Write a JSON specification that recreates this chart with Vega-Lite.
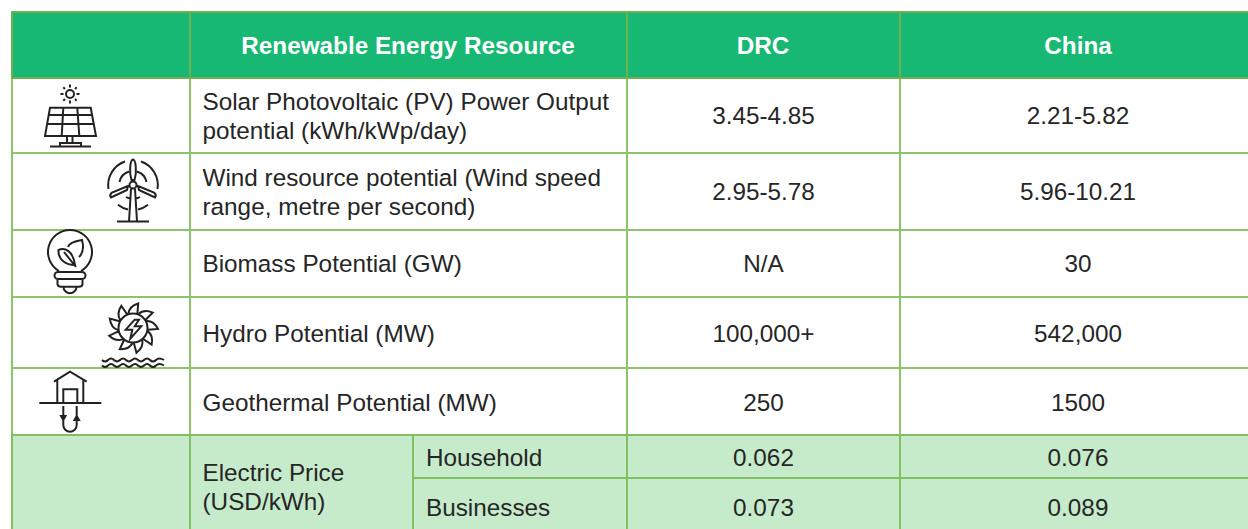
{
"$schema":"https://vega.github.io/schema/vega-lite/v6.json",
"width":1248,"height":529,
"autosize":{"type":"fit","contains":"padding"},
"padding":0,
"background":"#ffffff",
"view":{"stroke":null},
"config":{"text":{"font":"Liberation Sans","fontSize":24.3}},
"datasets":{
"cells":[
{"kind":"body","x":12,"x2":190,"y":78,"y2":153},
{"kind":"body","x":190,"x2":627,"y":78,"y2":153},
{"kind":"body","x":627,"x2":900,"y":78,"y2":153},
{"kind":"body","x":900,"x2":1255,"y":78,"y2":153},
{"kind":"body","x":12,"x2":190,"y":153,"y2":230},
{"kind":"body","x":190,"x2":627,"y":153,"y2":230},
{"kind":"body","x":627,"x2":900,"y":153,"y2":230},
{"kind":"body","x":900,"x2":1255,"y":153,"y2":230},
{"kind":"body","x":12,"x2":190,"y":230,"y2":297},
{"kind":"body","x":190,"x2":627,"y":230,"y2":297},
{"kind":"body","x":627,"x2":900,"y":230,"y2":297},
{"kind":"body","x":900,"x2":1255,"y":230,"y2":297},
{"kind":"body","x":12,"x2":190,"y":297,"y2":368},
{"kind":"body","x":190,"x2":627,"y":297,"y2":368},
{"kind":"body","x":627,"x2":900,"y":297,"y2":368},
{"kind":"body","x":900,"x2":1255,"y":297,"y2":368},
{"kind":"body","x":12,"x2":190,"y":368,"y2":435},
{"kind":"body","x":190,"x2":627,"y":368,"y2":435},
{"kind":"body","x":627,"x2":900,"y":368,"y2":435},
{"kind":"body","x":900,"x2":1255,"y":368,"y2":435},
{"kind":"price","x":12,"x2":190,"y":435,"y2":535},
{"kind":"price","x":190,"x2":413,"y":435,"y2":535},
{"kind":"price","x":413,"x2":627,"y":435,"y2":478},
{"kind":"price","x":413,"x2":627,"y":478,"y2":535},
{"kind":"price","x":627,"x2":900,"y":435,"y2":478},
{"kind":"price","x":627,"x2":900,"y":478,"y2":535},
{"kind":"price","x":900,"x2":1255,"y":435,"y2":478},
{"kind":"price","x":900,"x2":1255,"y":478,"y2":535},
{"kind":"header","x":12,"x2":190,"y":12,"y2":78},
{"kind":"header","x":190,"x2":627,"y":12,"y2":78},
{"kind":"header","x":627,"x2":900,"y":12,"y2":78},
{"kind":"header","x":900,"x2":1255,"y":12,"y2":78}
],
"headers":[
{"label":"Renewable Energy Resource","x":408,"y":47},
{"label":"DRC","x":763,"y":47},
{"label":"China","x":1078,"y":47}
],
"labels":[
{"label":"Solar Photovoltaic (PV) Power Output","x":202.5,"y":103},
{"label":"potential (kWh/kWp/day)","x":202.5,"y":132},
{"label":"Wind resource potential (Wind speed","x":202.5,"y":179},
{"label":"range, metre per second)","x":202.5,"y":208},
{"label":"Biomass Potential (GW)","x":202.5,"y":265},
{"label":"Hydro Potential (MW)","x":202.5,"y":335},
{"label":"Geothermal Potential (MW)","x":202.5,"y":404},
{"label":"Electric Price","x":202.5,"y":474},
{"label":"(USD/kWh)","x":202.5,"y":503},
{"label":"Household","x":426,"y":459},
{"label":"Businesses","x":426,"y":509}
],
"values":[
{"label":"3.45-4.85","x":763.5,"y":117},
{"label":"2.21-5.82","x":1078,"y":117},
{"label":"2.95-5.78","x":763.5,"y":193},
{"label":"5.96-10.21","x":1078,"y":193},
{"label":"N/A","x":763.5,"y":265},
{"label":"30","x":1078,"y":265},
{"label":"100,000+","x":763.5,"y":335},
{"label":"542,000","x":1078,"y":335},
{"label":"250","x":763.5,"y":404},
{"label":"1500","x":1078,"y":404},
{"label":"0.062","x":763.5,"y":459},
{"label":"0.076","x":1078,"y":459},
{"label":"0.073","x":763.5,"y":509},
{"label":"0.089","x":1078,"y":509}
],
"icons":[
{"icon":"solar","x":70,"y":120},
{"icon":"wind","x":133,"y":185},
{"icon":"biomass","x":70,"y":252},
{"icon":"hydro","x":133,"y":328},
{"icon":"geothermal","x":70,"y":403}
]
},
"data":{"name":"cells"},
"layer":[
{"mark":{"type":"rect","strokeWidth":2,"clip":true},
"encoding":{
"x":{"field":"x","type":"quantitative","scale":{"domain":[0,1248],"nice":false,"zero":false},"axis":null},
"x2":{"field":"x2"},
"y":{"field":"y","type":"quantitative","scale":{"domain":[529,0],"nice":false,"zero":false},"axis":null},
"y2":{"field":"y2"},
"fill":{"field":"kind","type":"nominal","legend":null,"scale":{"domain":["header","body","price"],"range":["#16B873","#FFFFFF","#C6EBCB"]}},
"stroke":{"field":"kind","type":"nominal","legend":null,"scale":{"domain":["header","body","price"],"range":["#72AF50","#8CC46C","#82BE62"]}}
}},
{"data":{"name":"icons"},
"mark":{"type":"point","filled":false,"size":4,"strokeWidth":2,"stroke":"#222222","opacity":1},
"encoding":{
"x":{"field":"x","type":"quantitative"},
"y":{"field":"y","type":"quantitative"},
"shape":{"field":"icon","type":"nominal","legend":null,"scale":{"domain":["solar","wind","biomass","hydro","geothermal"],"range":[
"M4,-26A4,4 0 1,1 -4,-26A4,4 0 1,1 4,-26ZM0,-35.5L0,-32.5M0,-19.5L0,-16.5M-9.5,-26L-6.5,-26M6.5,-26L9.5,-26M-6.7,-32.7L-5,-31M6.7,-32.7L5,-31M-6.7,-19.3L-5,-21M6.7,-19.3L5,-21M-20,-12.3L20.7,-12.3L26,16L-25,16ZM-22,-5L22,-5M-23.5,4L24,4M-6.7,-12.3L-8.3,16M7.3,-12.3L9.3,16M-3,16L-3,23M2.5,16L2.5,23M-10,26L-10,23L11,23L11,26M-20,26.5L21,26.5",
"M3.5,0A3.5,3.5 0 1,1 -3.5,0A3.5,3.5 0 1,1 3.5,0ZM-1.5,-5C-4,-12 -3,-25 0,-25.5C3,-25 4,-12 1.5,-5ZM-5,1L-21,7.5Q-24,10 -22,12.5L-6,5ZM5,1L21,7.5Q24,10 22,12.5L6,5ZM-8,-23.5A25,25 0 0,0 -24.5,4M8,-23.5A25,25 0 0,1 24.5,4M-15,19.7A25,25 0 0,0 -5,24.5M15,19.7A25,25 0 0,1 5,24.5M-4,-13.5A14,14 0 0,0 -13.5,-3M4,-13.5A14,14 0 0,1 13.5,-3M-7,12A14,14 0 0,0 -3,13.5M7,12A14,14 0 0,1 3,13.5M-2,4L-4,36.5M2,4L4,36.5M-16,36.5L16,36.5",
"M-11,19A22,22 0 1,1 11,19M-12,20L12,20A3.5,3.5 0 0,1 12,27L-12,27A3.5,3.5 0 0,1 -12,20ZM-12.5,27L-12.5,32Q-12.5,34.7 -9,34.7L9,34.7Q12.5,34.7 12.5,32L12.5,27M-6.5,34.7A6.5,6.5 0 0,0 6.5,34.7M5,13C-4,13 -12,8 -11.5,-2C-5,-5 3,-1 5,13ZM-2,-5C-1,-9 6,-11 12,-12C14,-5 13,1 9,5M-6,0L6,15",
"M14.5,0A14.5,14.5 0 1,1 -14.5,0A14.5,14.5 0 1,1 14.5,0ZM1.7,-8.3L-7.3,1.7L-0.7,1.7L-2.7,10.7L8.3,-1.7L1.7,-1.7L6,-8.3ZM-4.6,-14.3Q-3.8,-21.7 5.2,-24.5L4.4,-14.3M5.6,-13.9Q11,-19.1 19.7,-15.4L12.6,-8.2M13.2,-7Q20.7,-7.5 25,0.9L14.9,1.8M14.7,3.1Q20.7,7.5 18.6,16.7L10.2,11M9.2,11.8Q11,19.1 3.5,24.8L0.8,15M-0.5,15Q-3.8,21.7 -13.2,21.2L-9,12M-10,11.1Q-16.9,14.1 -23.8,7.7L-14.6,3.4M-14.9,2.1Q-22,0 -23.2,-9.4L-13.4,-6.8M-12.7,-7.9Q-16.9,-14.1 -11.7,-22.1L-5.9,-13.8M-31,32Q-28,35 -25,32Q-22,29 -19,32Q-16,35 -13,32Q-10,29 -7,32Q-4,35 -1,32Q2,29 5,32Q8,35 11,32Q14,29 17,32Q20,35 23,32Q26,29 31,32M-31,37.5Q-28,40.5 -25,37.5Q-22,34.5 -19,37.5Q-16,40.5 -13,37.5Q-10,34.5 -7,37.5Q-4,40.5 -1,37.5Q2,34.5 5,37.5Q8,40.5 11,37.5Q14,34.5 17,37.5Q20,40.5 23,37.5Q26,34.5 31,37.5",
"M-16,-21.3L0,-31.3L16.7,-21.3M-12.7,-24L-12.7,0M13.3,-24L13.3,0M-6.7,0L-6.7,-13.7L7.3,-13.7L7.3,0M-30.7,0L31.3,0M-6.7,3L-6.7,22A6.7,6.7 0 0,0 6.7,22L6.7,3M-9,13L-6.7,17L-4.5,13ZM4.5,17L6.7,13L9,17Z"
]}}
}},
{"data":{"name":"headers"},
"mark":{"type":"text","align":"center","baseline":"middle","fontWeight":"bold","color":"#FFFFFF"},
"encoding":{"x":{"field":"x","type":"quantitative"},"y":{"field":"y","type":"quantitative"},"text":{"field":"label"}}},
{"data":{"name":"labels"},
"mark":{"type":"text","align":"left","baseline":"middle","color":"#262626"},
"encoding":{"x":{"field":"x","type":"quantitative"},"y":{"field":"y","type":"quantitative"},"text":{"field":"label"}}},
{"data":{"name":"values"},
"mark":{"type":"text","align":"center","baseline":"middle","color":"#262626"},
"encoding":{"x":{"field":"x","type":"quantitative"},"y":{"field":"y","type":"quantitative"},"text":{"field":"label"}}}
]
}
